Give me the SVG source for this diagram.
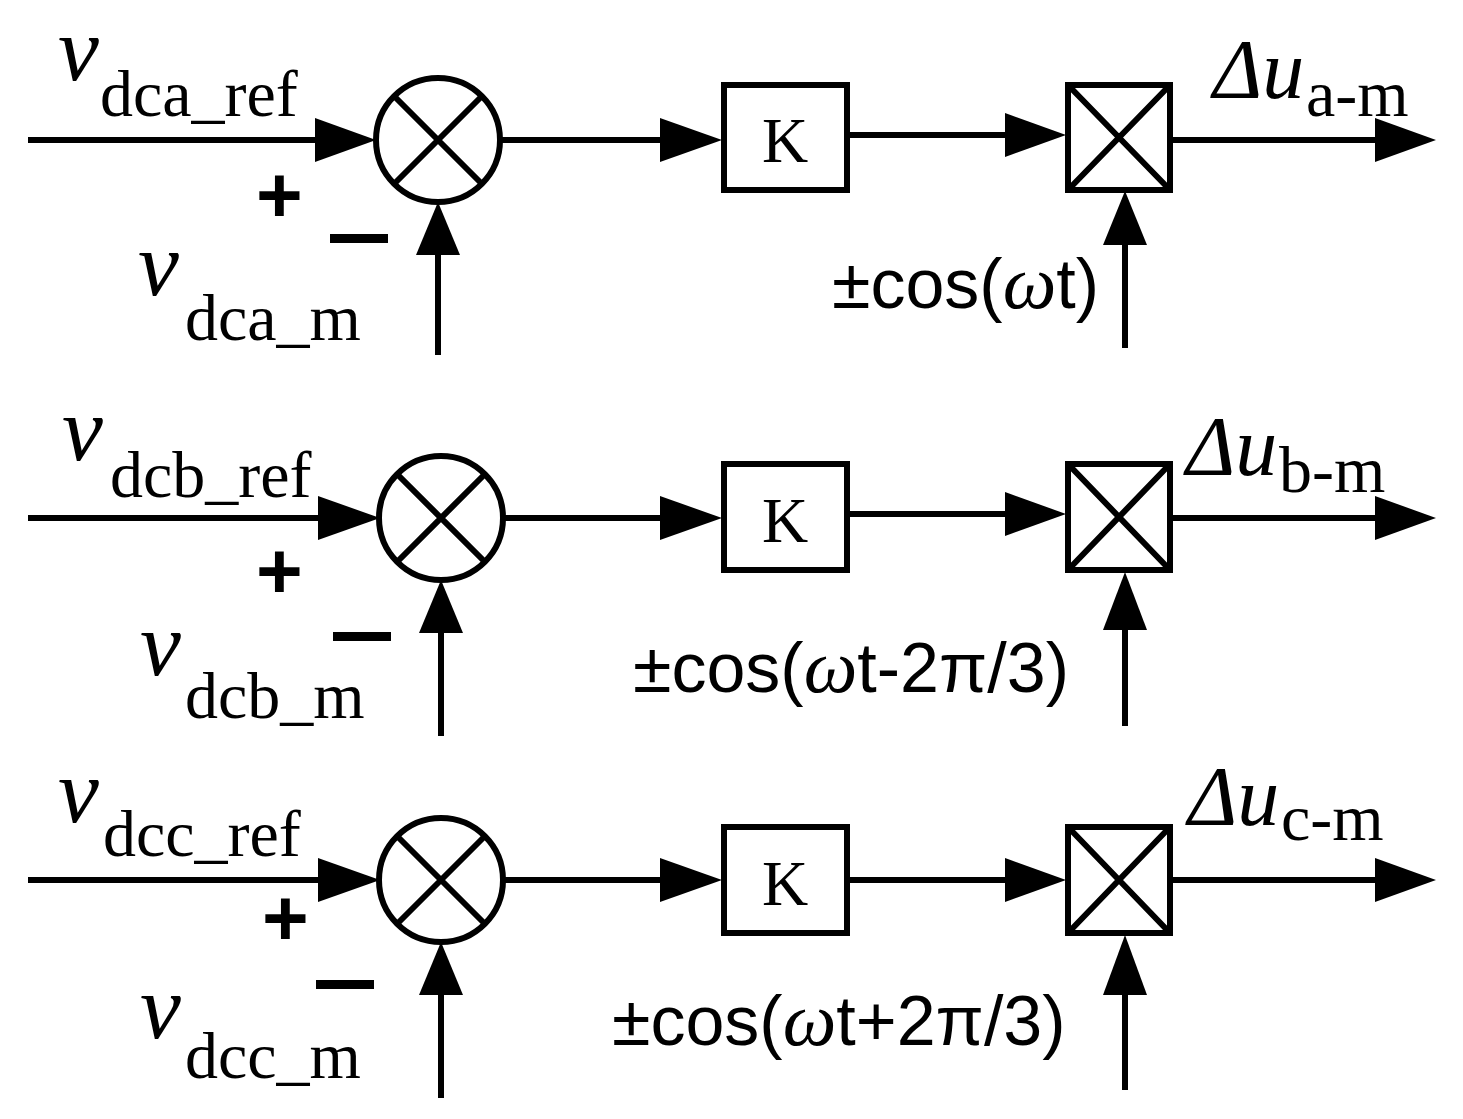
<svg xmlns="http://www.w3.org/2000/svg" width="1463" height="1119" viewBox="0 0 1463 1119">
<defs>
<style>
.l{stroke:#000;stroke-width:6;fill:none}
.s{stroke:#000;stroke-width:6;fill:#fff}
.t{font-family:"Liberation Serif",serif;fill:#000}
.v{font-family:"Liberation Serif",serif;font-style:italic;font-size:92px}
.d{font-family:"Liberation Serif",serif;font-style:italic;font-size:84px}
.sub{font-family:"Liberation Serif",serif;font-size:66px}
.c{font-family:"Liberation Sans",sans-serif;font-size:70px}
.w{font-family:"Liberation Serif",serif;font-style:italic;font-size:76px}
.p{font-family:"Liberation Sans",sans-serif;font-size:80px;font-weight:bold}
</style>
</defs>
<rect width="1463" height="1119" fill="#fff"/>
<g id="connectors">
<path class="l" d="M28,140 H320"/><path d="M315,118 L376,140 L315,162 z"/>
<path class="l" d="M438,355 V250"/><path d="M416,255 L438,202 L460,255 z"/>
<path class="l" d="M500,140 H665"/><path d="M660,118 L722,140 L660,162 z"/>
<path class="l" d="M847,135 H1010"/><path d="M1005,113 L1066,135 L1005,157 z"/>
<path class="l" d="M1125,348 V240"/><path d="M1103,245 L1125,191 L1147,245 z"/>
<path class="l" d="M1170,140 H1380"/><path d="M1375,118 L1436,140 L1375,162 z"/>

<path class="l" d="M28,518 H320"/><path d="M318,496 L380,518 L318,540 z"/>
<path class="l" d="M441,736 V628"/><path d="M419,633 L441,580 L463,633 z"/>
<path class="l" d="M503,518 H665"/><path d="M660,496 L722,518 L660,540 z"/>
<path class="l" d="M847,514 H1010"/><path d="M1005,492 L1066,514 L1005,536 z"/>
<path class="l" d="M1125,726 V625"/><path d="M1103,630 L1125,572 L1147,630 z"/>
<path class="l" d="M1170,518 H1380"/><path d="M1375,496 L1436,518 L1375,540 z"/>

<path class="l" d="M28,880 H320"/><path d="M318,858 L380,880 L318,902 z"/>
<path class="l" d="M441,1098 V990"/><path d="M419,995 L441,942 L463,995 z"/>
<path class="l" d="M503,880 H665"/><path d="M660,858 L722,880 L660,902 z"/>
<path class="l" d="M847,880 H1010"/><path d="M1005,858 L1066,880 L1005,902 z"/>
<path class="l" d="M1125,1090 V990"/><path d="M1103,995 L1125,935 L1147,995 z"/>
<path class="l" d="M1170,880 H1380"/><path d="M1375,858 L1436,880 L1375,902 z"/>
</g>
<g id="sum_a"><circle class="s" cx="438" cy="140" r="62"/><path class="l" d="M394,96 L482,184 M482,96 L394,184"/></g>
<g id="sum_b"><circle class="s" cx="441" cy="518" r="62"/><path class="l" d="M397,474 L485,562 M485,474 L397,562"/></g>
<g id="sum_c"><circle class="s" cx="441" cy="880" r="62"/><path class="l" d="M397,836 L485,924 M485,836 L397,924"/></g>
<g id="k_a"><rect class="s" x="724" y="85" width="123" height="105"/><text class="t" x="785" y="162" font-size="64" text-anchor="middle">K</text></g>
<g id="k_b"><rect class="s" x="724" y="464" width="123" height="106"/><text class="t" x="785" y="542" font-size="64" text-anchor="middle">K</text></g>
<g id="k_c"><rect class="s" x="724" y="827" width="123" height="106"/><text class="t" x="785" y="905" font-size="64" text-anchor="middle">K</text></g>
<g id="m_a"><rect class="s" x="1068" y="85" width="102" height="105"/><path class="l" d="M1068,85 L1170,190 M1170,85 L1068,190"/></g>
<g id="m_b"><rect class="s" x="1068" y="464" width="102" height="106"/><path class="l" d="M1068,464 L1170,570 M1170,464 L1068,570"/></g>
<g id="m_c"><rect class="s" x="1068" y="827" width="102" height="106"/><path class="l" d="M1068,827 L1170,933 M1170,827 L1068,933"/></g>
<g id="labels">
<text x="58" y="80" class="v">v</text><text x="100" y="116" class="sub">dca_ref</text>
<text x="256" y="222" class="p">+</text><rect x="330" y="234" width="58" height="9"/>
<text x="138" y="295" class="v">v</text><text x="185" y="340" class="sub">dca_m</text>
<text x="1213" y="98" class="d">Δu</text><text x="1306" y="116" class="sub">a-m</text>
<text x="832" y="308" class="c">±cos(<tspan class="w">ω</tspan>t)</text>

<text x="62" y="460" class="v">v</text><text x="110" y="497" class="sub">dcb_ref</text>
<text x="256" y="598" class="p">+</text><rect x="333" y="632" width="58" height="9"/>
<text x="140" y="675" class="v">v</text><text x="185" y="718" class="sub">dcb_m</text>
<text x="1186" y="475" class="d">Δu</text><text x="1279" y="492" class="sub">b-m</text>
<text x="633" y="692" class="c">±cos(<tspan class="w">ω</tspan>t-2π/3)</text>

<text x="58" y="822" class="v">v</text><text x="103" y="856" class="sub">dcc_ref</text>
<text x="262" y="945" class="p">+</text><rect x="316" y="980" width="58" height="9"/>
<text x="140" y="1038" class="v">v</text><text x="185" y="1078" class="sub">dcc_m</text>
<text x="1188" y="825" class="d">Δu</text><text x="1281" y="840" class="sub">c-m</text>
<text x="612" y="1045" class="c">±cos(<tspan class="w">ω</tspan>t+2π/3)</text>
</g>
</svg>
